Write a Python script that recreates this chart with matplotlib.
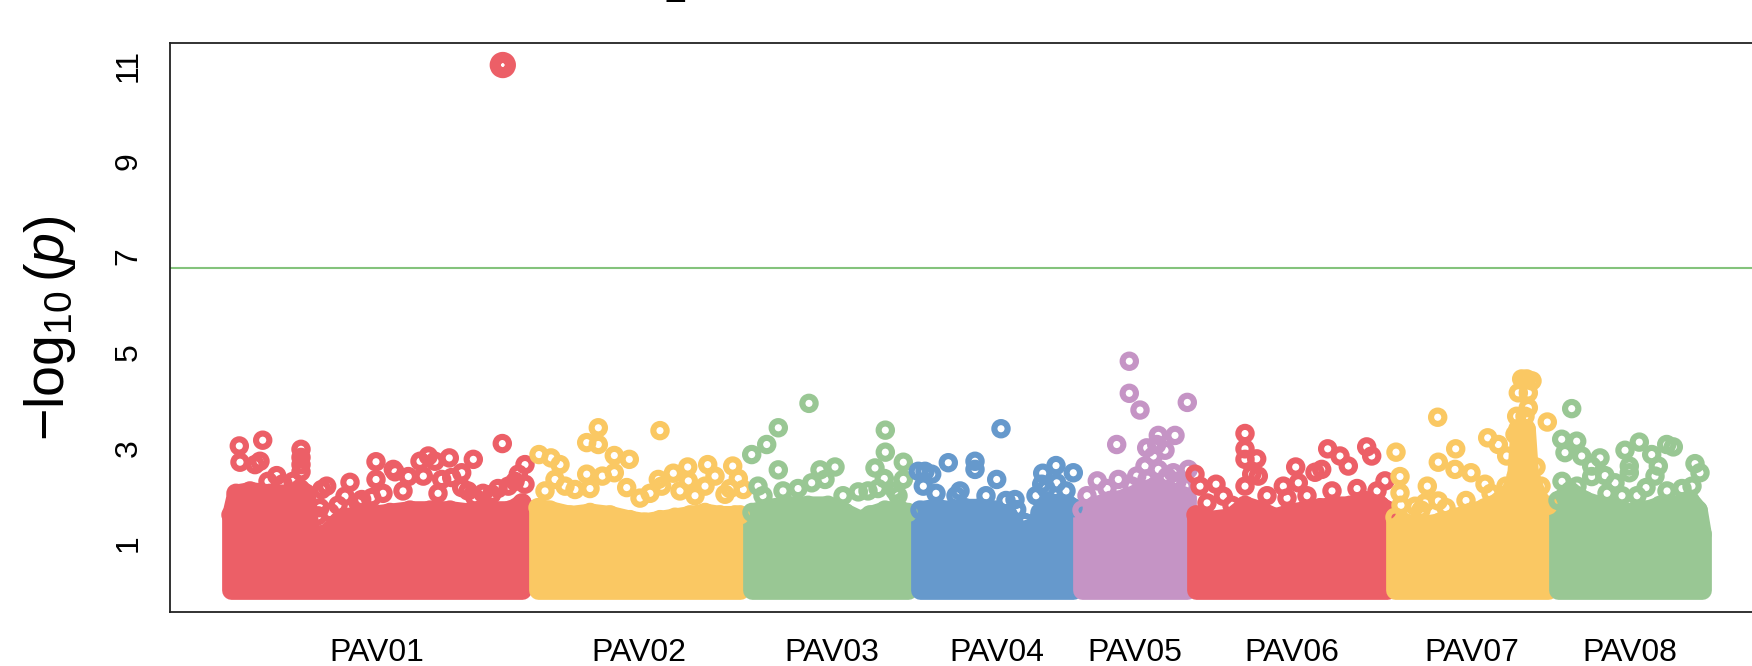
import numpy as np
import matplotlib.pyplot as plt

plt.rcParams['font.family'] = ['Liberation Sans', 'DejaVu Sans']
plt.rcParams['mathtext.fontset'] = 'custom'
plt.rcParams['mathtext.rm'] = 'Liberation Sans'
plt.rcParams['mathtext.it'] = 'Liberation Sans:italic'

# Chromosomes (length in Mb) and colours
chroms = ['PAV01', 'PAV02', 'PAV03', 'PAV04', 'PAV05', 'PAV06', 'PAV07', 'PAV08']
chrom_len = [307, 218, 168, 161, 115, 199, 161, 156]
colors = ['#EC5F67', '#FAC863', '#99C794', '#6699CC', '#C594C5',
          '#EC5F67', '#FAC863', '#99C794']

threshold = 6.76
min_logp = 0.03

# upper edge of the dense band of SNPs: (position in Mb, -log10 p)
pav01_band = [(8, 1.6), (13, 2.05), (27, 2.1), (47, 2.05), (67, 2.05), (77, 2.15), (83, 2.05),
              (87, 1.2), (102, 1.2), (115, 1.45), (127, 1.55), (147, 1.6), (167, 1.65),
              (187, 1.7), (207, 1.7), (227, 1.7), (247, 1.65), (267, 1.7), (287, 1.7), (299, 1.85)]
pav02_band = [(8, 1.75), (20, 1.7), (40, 1.6), (60, 1.65), (80, 1.6), (100, 1.5), (115, 1.45),
              (130, 1.5), (145, 1.55), (160, 1.6), (175, 1.65), (190, 1.6), (205, 1.6), (210, 1.6)]
pav03_band = [(4, 1.65), (20, 1.75), (40, 1.8), (60, 1.8), (80, 1.8), (97, 1.65), (112, 1.5),
              (122, 1.6), (137, 1.7), (152, 1.7), (160, 1.65)]
pav04_band = [(4, 1.7), (19, 1.75), (34, 1.7), (49, 1.75), (64, 1.75), (79, 1.7), (92, 1.6),
              (102, 1.3), (109, 1.1), (116, 1.15), (124, 1.65), (134, 1.85), (144, 1.85),
              (153, 1.8), (157, 1.75)]
pav05_band = [(5, 1.7), (18, 1.8), (33, 1.9), (48, 1.95), (63, 2.1), (78, 2.2),
              (93, 2.1), (106, 2.0), (110, 1.95)]
pav06_band = [(4, 1.6), (18, 1.5), (38, 1.55), (53, 1.8), (68, 1.7), (83, 1.55), (98, 1.65),
              (113, 1.7), (128, 1.75), (143, 1.8), (158, 1.8), (173, 1.9), (188, 1.8), (195, 1.7)]
pav07_band = [(4, 1.55), (19, 1.4), (34, 1.4), (49, 1.45), (64, 1.55), (79, 1.65), (94, 1.75),
              (109, 1.9), (121, 2.15), (125, 2.4), (128, 3.3), (135, 3.4), (138, 2.5),
              (145, 2.05), (152, 1.8), (157, 1.8)]
pav08_band = [(6, 1.9), (18, 2.1), (33, 1.9), (48, 1.8), (63, 1.7), (78, 1.65), (93, 1.7),
              (108, 1.8), (123, 1.8), (138, 1.9), (146, 1.7), (150, 1.2)]

# SNPs standing out above the band: (position in Mb, -log10 p)
pav01_snps = [(16.3, 3.04), (39.7, 3.16), (17, 2.70), (37, 2.72), (32, 2.65), (53.7, 2.42),
              (78, 2.97), (78, 2.80), (78, 2.65), (78, 2.5), (98.7, 2.13), (103.7, 2.20),
              (127, 2.28), (153, 2.71), (153, 2.34), (170.3, 2.55), (172, 2.5), (185.3, 2.40),
              (197, 2.72), (205.3, 2.83), (212, 2.72), (200.3, 2.41), (226.3, 2.79), (218.7, 2.34),
              (228.7, 2.38), (238.7, 2.48), (238.7, 2.17), (250.3, 2.76), (279.3, 3.09),
              (302, 2.65), (295.3, 2.45), (302, 2.24), (285.3, 2.20), (148.7, 1.96), (138.7, 1.92),
              (122, 1.99), (268.7, 2.03), (252, 1.96), (97, 1.75), (107, 1.65), (95, 1.58),
              (45, 2.3), (60, 2.25), (70, 2.3), (115, 1.8), (135, 1.85), (160, 2.05), (180, 2.1),
              (215, 2.05), (245, 2.1), (260, 2.05), (275, 2.15), (292, 2.3)]
pav02_snps = [(9, 2.86), (21, 2.79), (30, 2.65), (68.3, 3.42), (56.7, 3.11), (68.3, 3.07),
              (84.3, 2.84), (99.3, 2.76), (130, 3.36), (56.7, 2.45), (72.3, 2.41), (84.3, 2.48),
              (96.7, 2.17), (143.3, 2.47), (157.7, 2.60), (158.3, 2.31), (177.7, 2.65),
              (185, 2.41), (202.7, 2.62), (208.3, 2.36), (128.3, 2.34), (131.7, 2.20),
              (45, 2.13), (25, 2.34), (175, 2.2), (195, 2.03), (213.3, 2.13),
              (15, 2.1), (35, 2.2), (60, 2.15), (110, 1.95), (120, 2.05), (150, 2.1),
              (165, 2.0), (200, 2.15)]
pav03_snps = [(61, 3.93), (30.3, 3.42), (18.7, 3.07), (3.7, 2.86), (137.3, 3.37), (137.3, 2.91),
              (155.3, 2.70), (127, 2.58), (136.3, 2.36), (155.3, 2.34), (30.3, 2.54), (72, 2.54),
              (87, 2.60), (110.3, 2.08), (10, 2.2), (63.7, 2.27), (77, 2.34), (147, 2.10),
              (15, 2.0), (35, 2.1), (50, 2.15), (95, 2.0), (120, 2.1), (130, 2.15), (150, 2.0)]
pav04_snps = [(85, 3.40), (32.3, 2.69), (2.3, 2.51), (9, 2.51), (15.7, 2.45), (59, 2.72),
              (59, 2.55), (80.7, 2.34), (126.7, 2.47), (140, 2.63), (157.3, 2.48), (7.3, 2.20),
              (44, 2.10), (99, 1.92), (100.7, 1.71), (109, 1.44), (112, 1.30), (125.7, 2.24),
              (140.7, 2.27), (20, 2.05), (40, 2.0), (70, 2.0), (90, 1.9), (120, 2.0),
              (130, 2.15), (150, 2.1)]
pav05_snps = [(52.3, 4.81), (52.3, 4.14), (63, 3.79), (110.3, 3.95), (39.7, 3.07), (81.3, 3.26),
              (98, 3.26), (69.7, 3.0), (79.7, 3.07), (88, 2.95), (76.3, 2.83), (68, 2.62),
              (81.3, 2.55), (96.3, 2.48), (20.3, 2.31), (41.3, 2.34), (59.7, 2.41), (111.3, 2.55),
              (10, 2.0), (30, 2.15), (55, 2.2), (70, 2.35), (90, 2.4), (100, 2.3), (108, 2.2)]
pav06_snps = [(53, 3.30), (53, 2.98), (53, 2.76), (64.7, 2.77), (59.7, 2.45), (66.3, 2.41),
              (53, 2.20), (135.7, 2.98), (148, 2.83), (156.3, 2.62), (174.7, 3.02), (179.7, 2.83),
              (103.7, 2.60), (123, 2.49), (129.7, 2.55), (3, 2.45), (8, 2.20), (24, 2.24),
              (31.3, 1.99), (91.3, 2.20), (106.3, 2.27), (193, 2.31),
              (15, 1.85), (40, 1.8), (75, 2.0), (95, 1.95), (115, 2.0), (140, 2.1),
              (165, 2.15), (185, 2.1)]
pav07_snps = [(135.7, 4.44), (130.7, 4.44), (141, 4.40), (127.3, 4.15), (137.3, 4.15),
              (137.3, 3.84), (125.7, 3.66), (134, 3.66), (156.3, 3.54), (46.7, 3.64),
              (96.7, 3.21), (107.3, 3.07), (124, 3.28), (115.7, 2.83), (5, 2.91), (64.7, 2.98),
              (47.3, 2.70), (9, 2.40), (9, 2.06), (36.3, 2.20), (64, 2.55), (80, 2.48),
              (94, 2.24), (24, 1.78), (34, 1.85), (47.3, 1.89), (127, 3.4), (130, 3.2),
              (133, 3.0), (128, 2.8), (132, 2.6), (10, 1.8), (30, 1.7), (55, 1.75), (75, 1.9),
              (100, 2.05), (115, 2.2), (145, 2.6), (150, 2.2)]
pav08_snps = [(19.7, 3.82), (9.7, 3.18), (24.7, 3.14), (13, 2.90), (29.7, 2.83), (48, 2.79),
              (73, 2.95), (87.3, 3.12), (99.7, 2.86), (114.7, 3.07), (121.3, 3.02), (143, 2.67),
              (148, 2.48), (39.7, 2.62), (39.7, 2.40), (53, 2.42), (63, 2.27), (77.3, 2.62),
              (77.3, 2.48), (106.3, 2.62), (103, 2.41), (94, 2.17), (10, 2.3), (25, 2.2),
              (55, 2.05), (70, 2.0), (85, 2.0), (115, 2.1), (130, 2.15), (140, 2.2)]

# the single significant hit
top_chrom = 0
top_snp = (279.8, 11.0)

bands = [pav01_band, pav02_band, pav03_band, pav04_band,
         pav05_band, pav06_band, pav07_band, pav08_band]
snps = [pav01_snps, pav02_snps, pav03_snps, pav04_snps,
        pav05_snps, pav06_snps, pav07_snps, pav08_snps]

offsets = np.concatenate([[0], np.cumsum(chrom_len)[:-1]])
centers = offsets + np.array(chrom_len) / 2

fig = plt.figure(figsize=(17.52, 6.66), dpi=100)
# axes run past the right edge of the picture, as in the original crop
ax = fig.add_axes([170 / 1752, 54 / 666, 1630 / 1752, 568.5 / 666])

for i in range(len(chroms)):
    b = np.array(bands[i])
    bx = b[:, 0] + offsets[i]
    ax.fill_between(bx, min_logp, b[:, 1], facecolor=colors[i], edgecolor=colors[i],
                    linewidth=13.5, joinstyle='round', zorder=2)
    ax.scatter(bx, b[:, 1], s=92, facecolors='none', edgecolors=colors[i],
               linewidths=4.4, zorder=3)
    s = np.array(snps[i])
    ax.scatter(s[:, 0] + offsets[i], s[:, 1], s=92, facecolors='none',
               edgecolors=colors[i], linewidths=4.4, zorder=3)

ax.scatter([top_snp[0] + offsets[top_chrom]], [top_snp[1]], s=120, facecolors='none',
           edgecolors=colors[top_chrom], linewidths=8, zorder=4)

ax.axhline(threshold, color='#84C37C', linewidth=1.5, zorder=1)

ax.set_xlim(-53, 1577)
ax.set_ylim(-0.43, 11.45)
ax.set_xticks(centers)
ax.set_xticklabels(chroms)
ax.set_yticks([1, 3, 5, 7, 9, 11])
ax.tick_params(axis='x', length=0, pad=19, labelsize=23)
ax.tick_params(axis='y', length=0, pad=19, labelsize=23, labelrotation=90)
for lab in ax.get_yticklabels():
    lab.set_va('center')

ax.set_ylabel(r'$-\log_{10}(\mathit{p})$', fontsize=40, va='center')
ax.yaxis.set_label_coords(-0.0735, 0.5)

for side in ['left', 'top', 'bottom', 'right']:
    ax.spines[side].set_linewidth(1.3)
    ax.spines[side].set_color('#222222')

# bottom of the cut-off title
fig.text(675 / 1752, 1 + 4 / 666, '_', fontsize=23, ha='center', va='baseline')

fig.savefig('out.png', dpi=100)
